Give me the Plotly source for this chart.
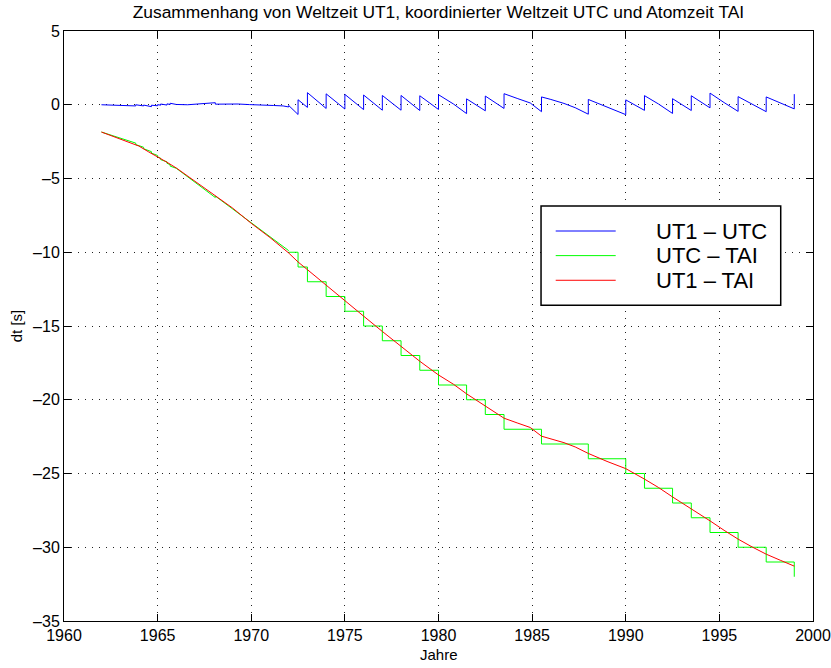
import plotly.graph_objects as go

# ---- data ----
# UT1 - UTC (seconds)
ut1_utc_years = [1962.0, 1962.8, 1963.5, 1963.83, 1963.83, 1964.25, 1964.25, 1964.67, 1964.67,
                 1965.0, 1965.0, 1965.16, 1965.16, 1965.5, 1965.5, 1965.67, 1965.67, 1966.0,
                 1966.6, 1967.3, 1968.0, 1968.08, 1968.08, 1968.7, 1969.3, 1969.9, 1970.5,
                 1971.2, 1971.7, 1972.0, 1972.0, 1972.5, 1972.5, 1973.0, 1973.0, 1974.0, 1974.0,
                 1975.0, 1975.0, 1976.0, 1976.0, 1977.0, 1977.0, 1978.0, 1978.0, 1979.0, 1979.0,
                 1980.0, 1980.0, 1980.8, 1981.5, 1981.5, 1982.5, 1982.5, 1983.5, 1983.5, 1984.2,
                 1984.9, 1985.5, 1985.5, 1986.0, 1986.7, 1987.3, 1988.0, 1988.0, 1989.0, 1990.0,
                 1990.0, 1991.0, 1991.0, 1991.75, 1992.5, 1992.5, 1993.5, 1993.5, 1994.5, 1994.5,
                 1995.25, 1996.0, 1996.0, 1996.75, 1997.5, 1997.5, 1998.25, 1999.0, 1999.0]
ut1_utc_values = [0.00, -0.03, -0.07, -0.08, 0.00, -0.08, -0.02, -0.13, -0.03,
                  -0.07, 0.01, -0.03, 0.05, -0.02, 0.06, 0.02, 0.10, 0.02,
                  0.00, 0.05, 0.10, 0.14, 0.04, 0.06, 0.05, 0.01, -0.04,
                  -0.05, -0.08, -0.15, -0.05, -0.66, 0.34, -0.18, 0.82, -0.25, 0.74,
                  -0.29, 0.70, -0.33, 0.66, -0.37, 0.63, -0.37, 0.63, -0.39, 0.61,
                  -0.32, 0.68, 0.05, -0.60, 0.40, -0.41, 0.59, -0.25, 0.75, 0.43,
                  0.12, -0.47, 0.53, 0.36, 0.09, -0.20, -0.64, 0.36, -0.18, -0.67,
                  0.33, -0.38, 0.62, 0.05, -0.59, 0.41, -0.39, 0.61, -0.21, 0.79,
                  0.15, -0.45, 0.55, 0.02, -0.47, 0.53, 0.12, -0.28, 0.72]

# UTC - TAI before 1972 (smooth part with 0.1 s adjustments)
utc_tai_early_years = [1962.0, 1963.0, 1963.83, 1963.83, 1964.0, 1964.25, 1964.25, 1964.67, 1964.67,
                       1965.0, 1965.0, 1965.16, 1965.16, 1965.5, 1965.5, 1965.67, 1965.67, 1966.0,
                       1967.0, 1968.0, 1968.08, 1968.08, 1969.0, 1970.0, 1971.0, 1972.0]
utc_tai_early_values = [-1.85, -2.26, -2.60, -2.70, -2.77, -2.88, -2.98, -3.18, -3.28,
                        -3.44, -3.54, -3.62, -3.72, -3.87, -3.97, -4.06, -4.16, -4.31,
                        -5.26, -6.21, -6.29, -6.19, -7.05, -8.00, -8.95, -9.89]
# UTC - TAI after 1972 (leap second staircase)
leap_years = [1972.0, 1972.5, 1973.0, 1974.0, 1975.0, 1976.0, 1977.0, 1978.0, 1979.0, 1980.0,
              1981.5, 1982.5, 1983.5, 1985.5, 1988.0, 1990.0, 1991.0, 1992.5, 1993.5, 1994.5,
              1996.0, 1997.5, 1999.0]
leap_values = [-10, -11, -12, -13, -14, -15, -16, -17, -18, -19,
               -20, -21, -22, -23, -24, -25, -26, -27, -28, -29,
               -30, -31, -32]

# UT1 - TAI
ut1_tai_years = [1962.0, 1962.5, 1963.0, 1963.5, 1964.0, 1964.5, 1965.0, 1965.5, 1966.0, 1967.0,
                 1968.0, 1969.0, 1970.0, 1971.0, 1972.0, 1972.5, 1973.0, 1974.0, 1975.0, 1976.0,
                 1977.0, 1978.0, 1979.0, 1980.0, 1980.8, 1981.5, 1982.5, 1983.5, 1984.2, 1984.9,
                 1985.5, 1986.0, 1986.7, 1987.3, 1988.0, 1989.0, 1990.0, 1991.0, 1991.75, 1992.5,
                 1993.5, 1994.5, 1995.25, 1996.0, 1996.75, 1997.5, 1998.25, 1999.0]
ut1_tai_values = [-1.85, -2.08, -2.30, -2.55, -2.80, -3.18, -3.52, -3.90, -4.29, -5.21,
                  -6.11, -7.00, -8.04, -9.00, -10.05, -10.66, -11.18, -12.25, -13.29, -14.33,
                  -15.37, -16.37, -17.39, -18.32, -18.95, -19.60, -20.41, -21.25, -21.57, -21.88,
                  -22.47, -22.64, -22.91, -23.20, -23.64, -24.18, -24.67, -25.38, -25.95, -26.59,
                  -27.39, -28.21, -28.85, -29.45, -29.98, -30.47, -30.88, -31.28]

x_ticks = [1960, 1965, 1970, 1975, 1980, 1985, 1990, 1995, 2000]
y_ticks = [5, 0, -5, -10, -15, -20, -25, -30, -35]
legend_labels = ["UT1 \u2013 UTC", "UTC \u2013 TAI", "UT1 \u2013 TAI"]
colors = ["#0000ff", "#00ff00", "#ff0000"]

FONT = "Liberation Sans, Arial, Helvetica, sans-serif"

fig = go.Figure()
fig.add_trace(go.Scatter(x=ut1_utc_years, y=ut1_utc_values, mode="lines",
                         line=dict(color=colors[0], width=1), name=legend_labels[0], showlegend=False))
fig.add_trace(go.Scatter(x=utc_tai_early_years, y=utc_tai_early_values, mode="lines",
                         line=dict(color=colors[1], width=1), name=legend_labels[1], showlegend=False))
fig.add_trace(go.Scatter(x=leap_years, y=leap_values, mode="lines",
                         line=dict(color=colors[1], width=1, shape="hv"), name=legend_labels[1],
                         showlegend=False))
fig.add_trace(go.Scatter(x=ut1_tai_years, y=ut1_tai_values, mode="lines",
                         line=dict(color=colors[2], width=1), name=legend_labels[2], showlegend=False))

axis_common = dict(showline=True, linecolor="black", linewidth=1, mirror="ticks",
                   ticks="inside", ticklen=7, tickcolor="black", tickwidth=1,
                   showgrid=True, gridcolor="#222222", gridwidth=1, griddash="1px,6px",
                   zeroline=False, automargin=False,
                   tickfont=dict(family=FONT, size=16, color="black"))

fig.update_xaxes(range=[1960, 2000], tickvals=x_ticks, ticktext=[str(v) for v in x_ticks],
                 ticklabelstandoff=0, **axis_common)
fig.update_yaxes(range=[-35, 5], tickvals=y_ticks,
                 ticktext=[str(v).replace("-", "\u2013") for v in y_ticks],
                 title=dict(text="dt [s]", font=dict(family=FONT, size=15, color="black"), standoff=6),
                 **axis_common)

# legend box drawn like MATLAB's
shapes = [dict(type="rect", xref="paper", yref="paper", x0=0.6369, x1=0.9569, y0=0.5351, y1=0.7034,
               line=dict(color="black", width=1.5), fillcolor="white", layer="above")]
row_y = [0.6610, 0.6193, 0.5775]
annotations = []
for lab, col, yy in zip(legend_labels, colors, row_y):
    shapes.append(dict(type="line", xref="paper", yref="paper", x0=0.6565, x1=0.7366, y0=yy, y1=yy,
                       line=dict(color=col, width=1), layer="above"))
    annotations.append(dict(xref="paper", yref="paper", x=0.7877, y=yy, xanchor="left", yanchor="middle",
                            text=lab, showarrow=False, font=dict(family=FONT, size=22, color="black")))
# x-axis title
annotations.append(dict(xref="paper", yref="paper", x=0.5, y=-0.0575, xanchor="center", yanchor="middle",
                        text="Jahre", showarrow=False, font=dict(family=FONT, size=15, color="black")))

fig.update_layout(
    width=831, height=668,
    margin=dict(l=64, r=18, t=31, b=47, autoexpand=False),
    paper_bgcolor="white", plot_bgcolor="white",
    title=dict(text="Zusammenhang von Weltzeit UT1, koordinierter Weltzeit UTC und Atomzeit TAI",
               x=0.5276, xanchor="center", y=1 - 12 / 668, yanchor="middle", yref="container",
               automargin=False, font=dict(family=FONT, size=17.4, color="black")),
    shapes=shapes, annotations=annotations, showlegend=False,
)

fig.write_html("out.html", config={"displayModeBar": False},
               post_script="document.body.style.margin='0px';document.body.style.overflow='hidden';")
